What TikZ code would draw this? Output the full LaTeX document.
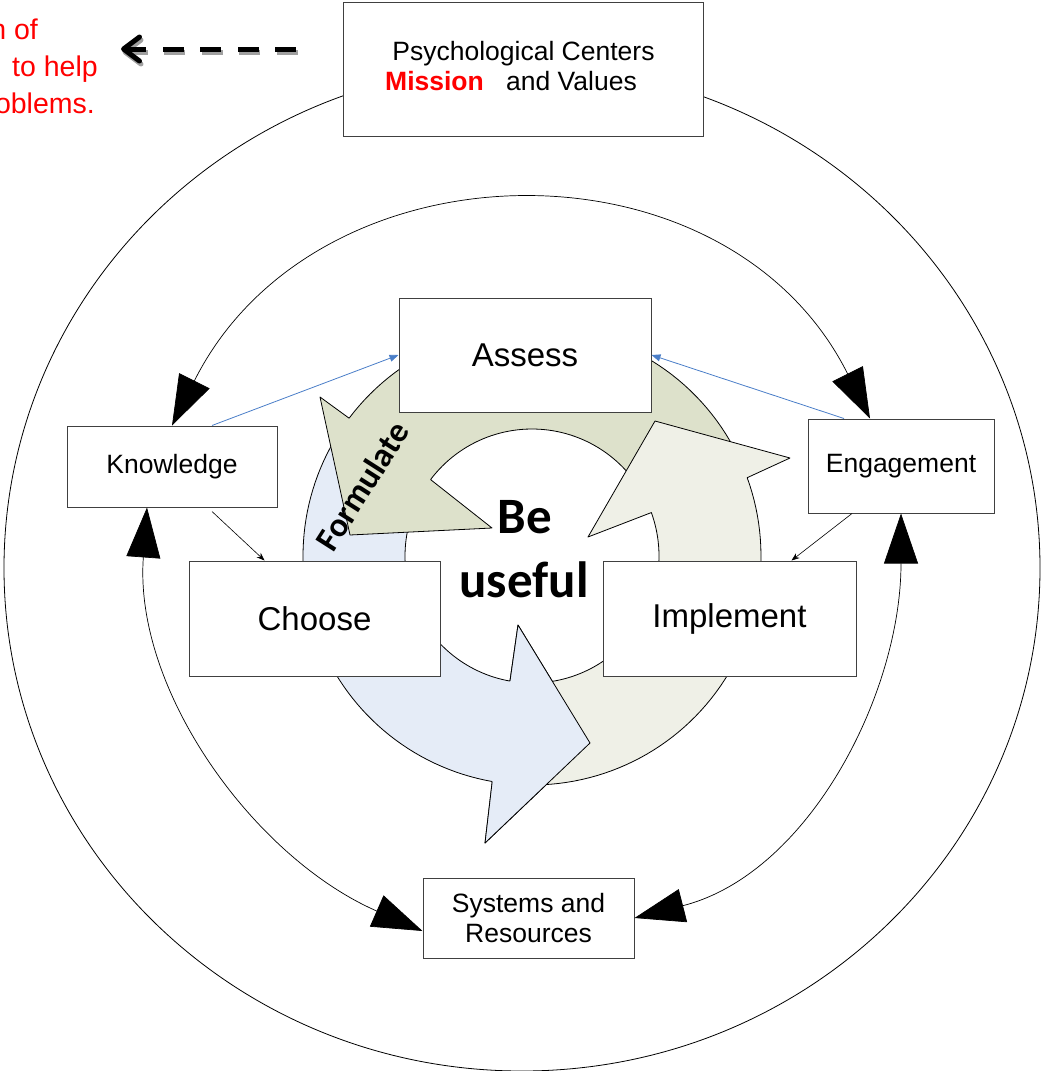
\documentclass[tikz,border=0pt]{standalone}
\usepackage{fontspec}
\setmainfont{Liberation Sans}
\newfontfamily\calfont{Carlito}
\usetikzlibrary{arrows.meta}
\definecolor{grn}{HTML}{DDE1CB}
\definecolor{lgt}{HTML}{EFF0E7}
\definecolor{blu}{HTML}{E5ECF7}
\definecolor{conblue}{HTML}{4A7EC8}
\definecolor{boxline}{HTML}{404040}
\definecolor{shadowgray}{HTML}{A0A0A0}
\begin{document}
\begin{tikzpicture}[x=1pt,y=-1pt,
  box/.style={draw=boxline, line width=1pt, fill=white, inner sep=0pt, font=\fontsize{26.5}{30}\selectfont},
  bigbox/.style={box, font=\fontsize{33}{38}\selectfont},
  ring/.style={draw=black, line width=0.8pt, line join=round},
  cyc/.style={line width=0.7pt, {Triangle[length=50pt,width=34pt]}-{Triangle[length=50pt,width=34pt]}},
  thinarr/.style={line width=0.6pt, -{Stealth[length=8pt,width=6pt]}},
  bluearr/.style={draw=conblue, line width=0.8pt, -{Triangle[length=9pt,width=7pt]}},
  redtxt/.style={text=red, inner sep=0pt, font=\fontsize{28.5}{32}\selectfont},
  txt/.style={inner sep=0pt, font=\fontsize{26.5}{30}\selectfont},
  dasharr/.style={line width=5pt, dash pattern=on 21pt off 16.5pt, -{Straight Barb[round,length=16pt,width=24pt]}}
]
\useasboundingbox (0,0) rectangle (1043,1071);

% outer ellipse
\draw[line width=0.8pt] (522,568) ellipse [x radius=518pt, y radius=503pt];

% cycle arrows: blue, green, light, then blue head again
\path[ring, fill=blu] plot[domain=212:100, samples=60] ({532+229*cos(\x)},{556+229*sin(\x)})
  -- (485,843) -- (590,743) -- (518,625)
  -- plot[domain=100:212, samples=60] ({532+127*cos(\x)},{556+127*sin(\x)}) -- cycle;
\path[ring, fill=grn] plot[domain=336:217, samples=60] ({532+229*cos(\x)},{556+229*sin(\x)})
  -- (320,397) -- (350,535) -- (492,528)
  -- plot[domain=217:336, samples=60] ({532+127*cos(\x)},{556+127*sin(\x)}) -- cycle;
\path[ring, fill=lgt] plot[domain=95:-20, samples=60] ({532+229*cos(\x)},{556+229*sin(\x)})
  -- (790,458) -- (655,421) -- (588,537)
  -- plot[domain=-20:95, samples=60] ({532+127*cos(\x)},{556+127*sin(\x)}) -- cycle;
\fill[blu] (492.2,781.5) -- (485,843) -- (590,743) -- (518,625) -- (510,681) -- cycle;
\draw[ring] (492.2,781.5) -- (485,843) -- (590,743) -- (518,625) -- (510,681);

% center texts
\node[rotate=57.5, inner sep=0pt, font=\calfont\bfseries\fontsize{34}{34}\selectfont] (form) at (362,486) {Formulate};
\node[anchor=base, inner sep=0pt, font=\calfont\bfseries\fontsize{51}{60}\selectfont] (be1) at (525,533) {Be};
\node[anchor=base, inner sep=0pt, font=\calfont\bfseries\fontsize{51}{60}\selectfont] (be2) at (524,597) {useful};

% boxes
\node[box, minimum width=360pt, minimum height=134pt] (top) at (523,69) {};
\node[txt, anchor=base] (t1) at (523.5,60) {Psychological Centers};
\node[txt, anchor=base west, text=red, font=\bfseries\fontsize{26.5}{30}\selectfont] (t2) at (385,90) {Mission};
\node[txt, anchor=base west] (t3) at (506,90) {and Values};

\node[bigbox, minimum width=252pt, minimum height=114pt] (assess) at (525,355) {Assess};
\node[box, minimum width=210pt, minimum height=81pt] (know) at (172,466.5) {Knowledge};
\node[box, minimum width=186pt, minimum height=94pt] (eng) at (901,466) {Engagement};
\node[bigbox, minimum width=251pt, minimum height=115pt] (choose) at (314.5,618.5) {Choose};
\node[bigbox, minimum width=253pt, minimum height=115pt] (impl) at (729.5,618.5) {Implement};
\node[box, minimum width=211pt, minimum height=80pt, align=center] (sys) at (528.5,918) {Systems and\\Resources};

% red text
\node[redtxt, anchor=base east] (r1) at (38,39) {n of};
\node[redtxt, anchor=base east] (r2) at (98,76) {to help};
\node[redtxt, anchor=base east] (r3) at (95,113) {oblems.};

% dashed arrow with shadow
\coordinate (dashstart) at (296,49);
\coordinate (dashend) at (121,49);
\draw[dasharr, draw=shadowgray] ([shift={(1.5,3)}]dashstart) -- ([shift={(1.5,3)}]dashend);
\draw[dasharr] (dashstart) -- (dashend);

% cycle connectors
\draw[cyc] (know.north) to[out=63.4, in=116.6, looseness=1.175] ([xshift=-31pt]eng.north);
\draw[cyc] ([xshift=-25pt]know.south) to[out=265.8, in=156.4, looseness=0.93] ([yshift=-13pt]sys.west);
\draw[cyc] (eng.south) to[out=270, in=14.3, looseness=0.95] (sys.east);

% blue connectors
\draw[bluearr] ([xshift=40pt]know.north) -- (assess.west);
\draw[bluearr] ([xshift=-57pt]eng.north) -- (assess.east);

% thin connectors
\draw[thinarr] ([xshift=40pt,yshift=-4pt]know.south) -- ([xshift=-50pt]choose.north);
\draw[thinarr] ([xshift=-49pt]eng.south) -- ([xshift=62pt]impl.north);
\end{tikzpicture}
\end{document}
